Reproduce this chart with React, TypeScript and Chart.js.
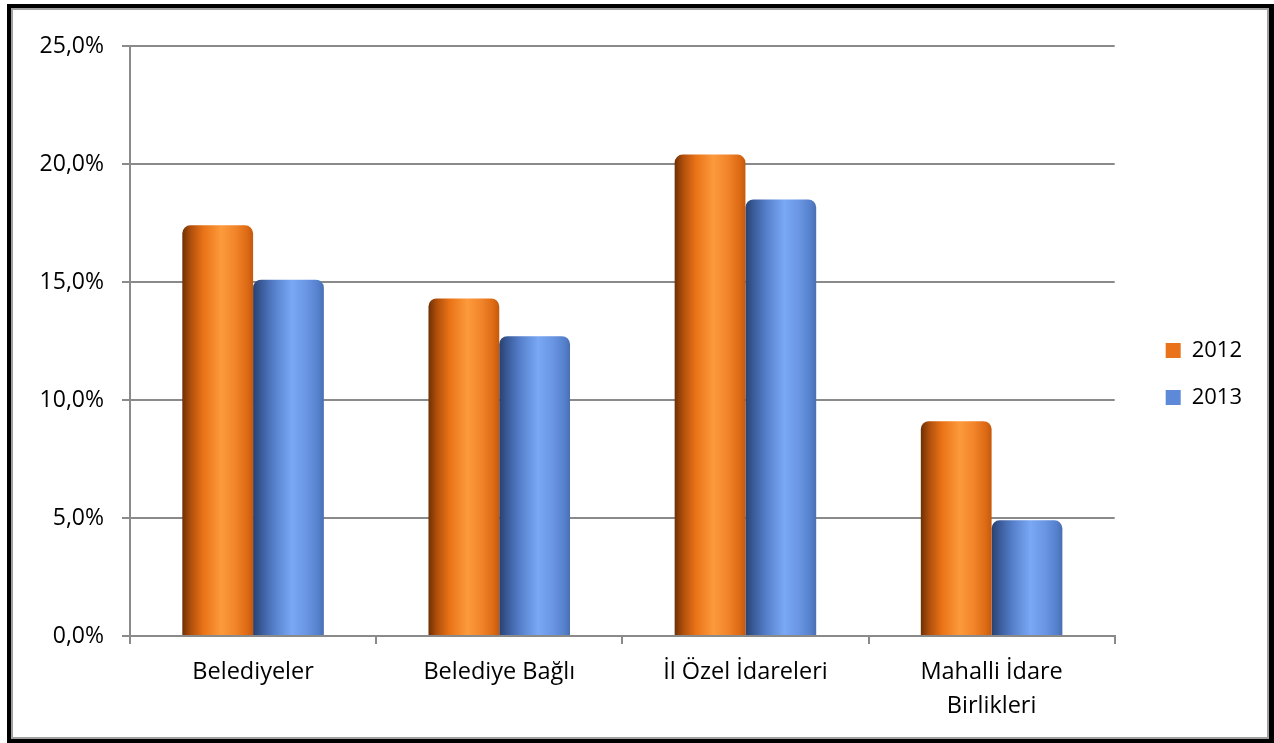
import React, { useEffect, useRef } from 'react';
import { Chart, registerables } from 'chart.js';

Chart.register(...registerables);

// ---- data ----
const categories: (string | string[])[] = ['Belediyeler', 'Belediye Bağlı', 'İl Özel İdareleri', ['Mahalli İdare', 'Birlikleri']];
const seriesNames = ['2012', '2013'];
const values2012 = [17.4, 14.3, 20.4, 9.1];
const values2013 = [15.1, 12.7, 18.5, 4.9];
const yMin = 0;
const yMax = 25;
const yStep = 5;

// ---- styles ----
const FONT = "'Open Sans', 'DejaVu Sans', sans-serif";
const GRID = '#8a8a8a';
const CAT_PCT = 0.575;
const ORANGE_STOPS: [number, string][] = [
  [0, '#6e3004'], [0.12, '#b04f0b'], [0.3, '#ea7317'], [0.55, '#fc9a3c'], [0.75, '#f2842a'], [0.92, '#dc6a14'], [1, '#c4580c'],
];
const BLUE_STOPS: [number, string][] = [
  [0, '#29416f'], [0.12, '#3b5c9b'], [0.3, '#5680cc'], [0.55, '#7aa8f4'], [0.75, '#6a96e4'], [0.92, '#5580cc'], [1, '#4a6fb2'],
];
const ORANGE_SOLID = '#e8731a';
const BLUE_SOLID = '#5d89d8';

function barGradient(ctx: any, stops: [number, string][], fallback: string) {
  if (!ctx || ctx.type !== 'data') return fallback;
  const chart = ctx.chart;
  const xs = chart.scales && chart.scales.x;
  if (!xs || !chart.chartArea) return fallback;
  const center = xs.getPixelForValue(ctx.dataIndex);
  const catW = xs.width / categories.length;
  const barW = (catW * CAT_PCT) / 2;
  const left = center - (catW * CAT_PCT) / 2 + ctx.datasetIndex * barW;
  if (!isFinite(left) || !isFinite(barW) || barW <= 0) return fallback;
  const g = chart.ctx.createLinearGradient(left, 0, left + barW, 0);
  stops.forEach(([o, c]) => g.addColorStop(o, c));
  return g;
}

export default function App() {
  const ref = useRef<HTMLCanvasElement | null>(null);

  useEffect(() => {
    if (!ref.current) return;
    const chart = new Chart(ref.current, {
      type: 'bar',
      data: {
        labels: categories as any,
        datasets: [
          {
            label: seriesNames[0],
            data: values2012,
            backgroundColor: (c: any) => barGradient(c, ORANGE_STOPS, ORANGE_SOLID),
            borderWidth: 0,
            borderRadius: 8,
            categoryPercentage: CAT_PCT,
            barPercentage: 1,
          },
          {
            label: seriesNames[1],
            data: values2013,
            backgroundColor: (c: any) => barGradient(c, BLUE_STOPS, BLUE_SOLID),
            borderWidth: 0,
            borderRadius: 8,
            categoryPercentage: CAT_PCT,
            barPercentage: 1,
          },
        ],
      },
      options: {
        responsive: false,
        animation: false,
        color: '#000',
        layout: { padding: { left: 0, top: 46, right: 22, bottom: 0 } },
        plugins: {
          tooltip: { enabled: false },
          title: { display: false },
          legend: {
            position: 'right',
            align: 'start',
            title: {
              display: true,
              text: ' ',
              color: '#000',
              font: { family: FONT, size: 10, lineHeight: '12px' as any },
              padding: { top: 0, bottom: 256.5 } as any,
            },
            labels: {
              boxWidth: 15,
              boxHeight: 15,
              padding: 25,
              color: '#000',
              font: { family: FONT, size: 22, lineHeight: '22px' as any },
              generateLabels: () => [
                { text: seriesNames[0], fillStyle: ORANGE_SOLID, strokeStyle: 'rgba(0,0,0,0)', lineWidth: 0, fontColor: '#000', datasetIndex: 0, hidden: false } as any,
                { text: seriesNames[1], fillStyle: BLUE_SOLID, strokeStyle: 'rgba(0,0,0,0)', lineWidth: 0, fontColor: '#000', datasetIndex: 1, hidden: false } as any,
              ],
            },
          },
        },
        scales: {
          x: {
            offset: true,
            grid: { display: true, offset: true, drawOnChartArea: false, drawTicks: true, tickLength: 8, color: GRID, lineWidth: 2 },
            border: { display: true, color: GRID, width: 2 },
            ticks: {
              color: '#000',
              padding: 11,
              maxRotation: 0,
              autoSkip: false,
              font: { family: FONT, size: 23.5, lineHeight: '34px' as any },
            },
            afterFit: (s: any) => { s.height = 107; },
          },
          y: {
            min: yMin,
            max: yMax,
            grid: { display: true, drawTicks: true, tickLength: 8, color: GRID, lineWidth: 2 },
            border: { display: true, color: GRID, width: 2 },
            ticks: {
              stepSize: yStep,
              color: '#000',
              padding: 18,
              font: { family: FONT, size: 23 },
              callback: (v: any) => Number(v).toFixed(1).replace('.', ',') + '%',
            },
            afterFit: (s: any) => { s.width = 130; },
          },
          gap: {
            type: 'linear',
            position: 'right',
            display: true,
            grid: { display: false, drawTicks: false },
            border: { display: false },
            ticks: { display: false },
            afterFit: (s: any) => { s.width = 26; },
          },
        } as any,
      },
    });
    return () => chart.destroy();
  }, []);

  return (
    <>
      <div
        style={{
          position: 'fixed',
          left: 7,
          top: 4,
          width: 1267,
          height: 739,
          boxSizing: 'border-box',
          borderStyle: 'solid',
          borderColor: '#000',
          borderWidth: '4px 5px 4px 4px',
          background: '#fff',
        }}
      >
        <div style={{ position: 'absolute', inset: 0, border: '2px solid #a0a0a0' }} />
      </div>
      <canvas
        ref={ref}
        width={1274}
        height={743}
        style={{ position: 'fixed', left: 0, top: 0, width: 1274, height: 743 }}
      />
    </>
  );
}
